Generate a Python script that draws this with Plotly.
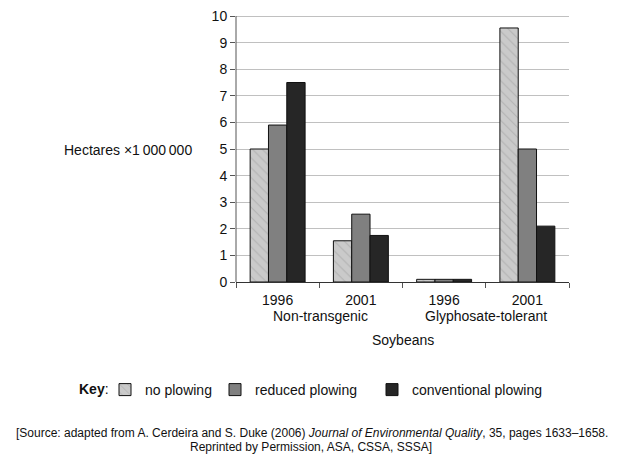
import plotly.graph_objects as go

categories = ["NT1996", "NT2001", "GT1996", "GT2001"]
tick_labels = ["1996", "2001", "1996", "2001"]
group_labels = ["Non-transgenic", "Glyphosate-tolerant"]
series_names = ["no plowing", "reduced plowing", "conventional plowing"]
no_plowing = [5.0, 1.55, 0.1, 9.55]
reduced_plowing = [5.9, 2.55, 0.1, 5.0]
conventional_plowing = [7.5, 1.75, 0.1, 2.1]
y_ticks = list(range(0, 11))

FONT = "Liberation Sans, Arial, sans-serif"

fig = go.Figure()
fig.add_trace(go.Bar(
    x=categories, y=no_plowing, name=series_names[0], legend="legend",
    marker=dict(color="#c8c8c8", line=dict(color="#111", width=1),
                pattern=dict(shape="\\", fgcolor="#9a9a9a", bgcolor="#cacaca", size=7, solidity=0.15)),
))
fig.add_trace(go.Bar(
    x=categories, y=reduced_plowing, name=series_names[1], legend="legend2",
    marker=dict(color="#808080", line=dict(color="#111", width=1)),
))
fig.add_trace(go.Bar(
    x=categories, y=conventional_plowing, name=series_names[2], legend="legend3",
    marker=dict(color="#262626", line=dict(color="#111", width=1)),
))

# page has an 8px body margin; figure is sized/placed to fill the 620x461 view
OFF = 8
W, H = 620 - OFF, 461 - OFF
L = 236 - OFF
T = 14 - OFF
R = W - (569 - OFF)
B = H - (282 - OFF)
pw = W - L - R
ph = H - T - B
YMAX = 10 * ph / (ph - 2)

def px(X):
    return (X - OFF - L) / pw

def py(Y):
    return (H - B - (Y - OFF)) / ph

leg_common = dict(orientation="h", xanchor="left", yanchor="middle",
                  font=dict(family=FONT, size=14, color="#111"),
                  bgcolor="rgba(0,0,0,0)", itemclick=False)

fig.update_layout(
    width=W, height=H,
    margin=dict(l=L, r=R, t=T, b=B, pad=0, autoexpand=False),
    paper_bgcolor="white", plot_bgcolor="white",
    barmode="group", bargap=0.34, bargroupgap=0,
    font=dict(family=FONT, size=14, color="#111"),
    showlegend=True,
    legend=dict(x=px(105), y=py(390), **leg_common),
    legend2=dict(x=px(215), y=py(390), **leg_common),
    legend3=dict(x=px(372), y=py(390), **leg_common),
    xaxis=dict(
        type="category", tickmode="array", tickvals=categories, ticktext=tick_labels,
        tickson="boundaries", ticks="outside", ticklen=5, tickcolor="#555",
        ticklabelstandoff=5,
        showline=True, linecolor="#333", linewidth=1,
        showgrid=False, tickfont=dict(size=14, family=FONT, color="#111"),
    ),
    yaxis=dict(
        range=[0, YMAX], tickvals=y_ticks, ticks="outside", ticklen=5, tickcolor="#555",
        ticklabeloverflow="allow",
        showline=False,
        showgrid=True, gridcolor="#c0c0c0", gridwidth=1, zeroline=False,
        tickfont=dict(size=14, family=FONT, color="#111"),
    ),
    shapes=[dict(type="line", xref="paper", yref="y", x0=0, x1=0, y0=0, y1=10,
                 line=dict(color="#555", width=1))],
)

def ann(text, X, Y, size=14, xanchor="center"):
    return dict(text=text, x=px(X), y=py(Y), xref="paper", yref="paper",
                xanchor=xanchor, yanchor="middle", showarrow=False,
                font=dict(size=size, family=FONT, color="#111"))

annotations = [
    ann(group_labels[0], 320, 316),
    ann(group_labels[1], 486, 316),
    ann("Soybeans", 403, 340),
    ann("Hectares \u00d71\u2009000\u2009000", 128, 150),
    ann("<b>Key</b>:", 111, 389, xanchor="right"),
    ann("[Source: adapted from A. Cerdeira and S. Duke (2006) <i>Journal of Environmental Quality</i>, 35, pages 1633\u20131658.",
        312, 433, size=12),
    ann("Reprinted by Permission, ASA, CSSA, SSSA]", 311, 447, size=12),
]
fig.update_layout(annotations=annotations)

fig.write_html("out.html")
